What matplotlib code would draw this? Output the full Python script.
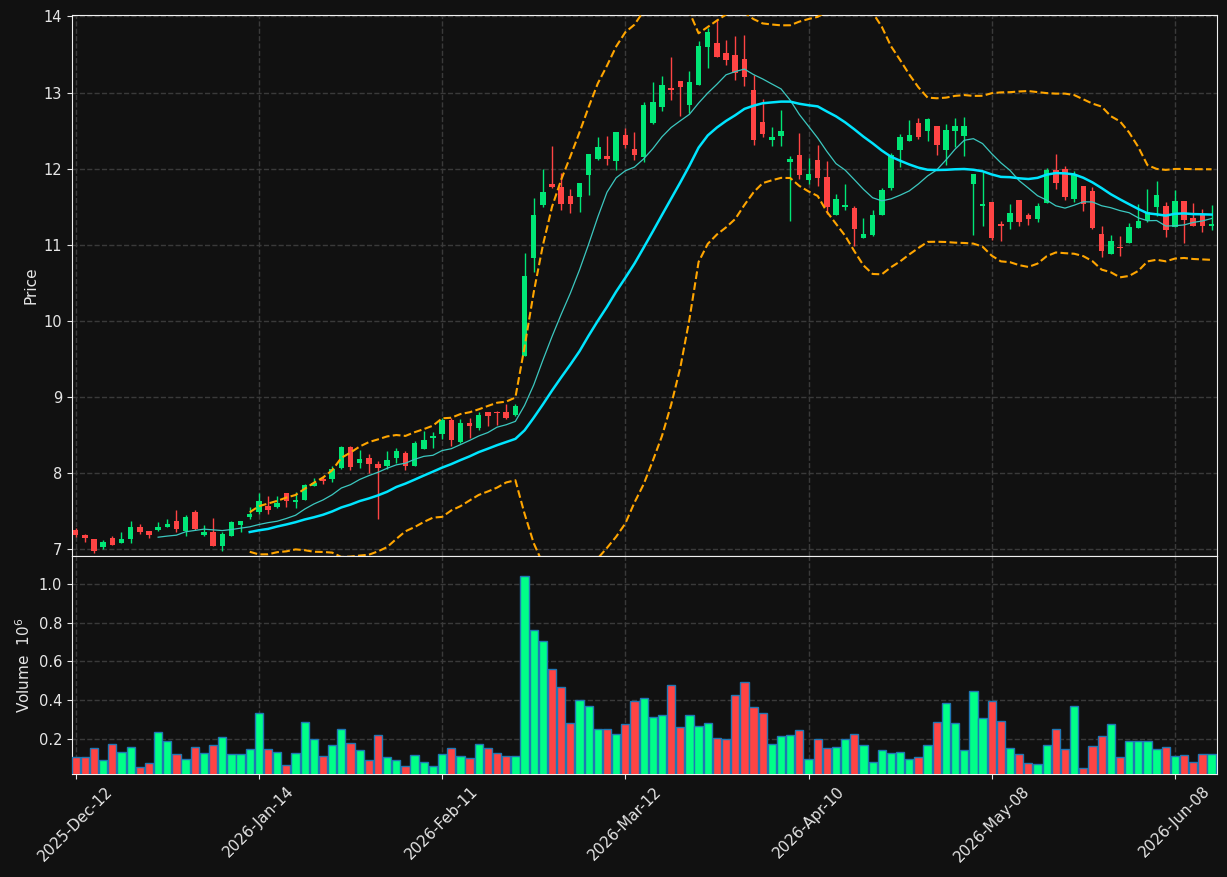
import numpy as np
import pandas as pd
import matplotlib
matplotlib.use("Agg")
import matplotlib.pyplot as plt

# daily OHLC + volume (volume in millions)
opens = [7.251, 7.185, 7.132, 7.031, 7.145, 7.079, 7.132, 7.291, 7.238, 7.251,
         7.291, 7.370, 7.238, 7.489, 7.185, 7.225, 7.040, 7.172, 7.317, 7.423,
         7.482, 7.570, 7.548, 7.737, 7.623, 7.640, 7.833, 7.925, 7.925, 8.061,
         8.346, 8.136, 8.202, 8.123, 8.096, 8.202, 8.263, 8.096, 8.320, 8.465,
         8.518, 8.702, 8.404, 8.662, 8.588, 8.803, 8.803, 8.803, 8.759, 9.535,
         10.825, 11.522, 11.794, 11.754, 11.636, 11.627, 11.917, 12.123, 12.162, 12.101,
         12.439, 12.254, 12.154, 12.596, 12.811, 13.057, 13.149, 12.833, 13.096, 13.596,
         13.649, 13.518, 13.491, 13.439, 13.031, 12.610, 12.373, 12.425, 12.083, 12.175,
         11.846, 12.110, 11.886, 11.386, 11.491, 11.478, 11.083, 11.127, 11.386, 11.741,
         12.241, 12.360, 12.596, 12.491, 12.557, 12.241, 12.491, 12.425, 11.794, 11.504,
         11.557, 11.268, 11.298, 11.583, 11.386, 11.338, 11.548, 11.978, 11.991, 11.596,
         11.768, 11.702, 11.136, 10.873, 10.965, 11.018, 11.215, 11.320, 11.491, 11.504,
         11.232, 11.570, 11.346, 11.386, 11.241]
highs = [7.282, 7.198, 7.140, 7.119, 7.167, 7.225, 7.370, 7.326, 7.240, 7.352,
         7.396, 7.515, 7.445, 7.515, 7.317, 7.410, 7.220, 7.370, 7.370, 7.551,
         7.737, 7.702, 7.697, 7.740, 7.750, 7.850, 7.934, 7.965, 8.096, 8.355,
         8.350, 8.303, 8.254, 8.162, 8.294, 8.333, 8.294, 8.417, 8.548, 8.539,
         8.728, 8.720, 8.711, 8.724, 8.798, 8.803, 8.811, 8.908, 8.908, 10.895,
         11.618, 11.996, 12.294, 11.947, 11.737, 11.816, 12.197, 12.412, 12.434, 12.487,
         12.531, 12.487, 12.877, 13.132, 13.215, 13.461, 13.149, 13.289, 13.680, 13.846,
         13.961, 13.684, 13.737, 13.750, 13.224, 12.921, 12.553, 12.776, 12.171, 12.465,
         12.136, 12.316, 12.105, 11.671, 11.803, 11.513, 11.346, 11.461, 11.741, 12.211,
         12.452, 12.636, 12.662, 12.662, 12.557, 12.583, 12.662, 12.675, 11.925, 11.952,
         11.557, 11.311, 11.531, 11.583, 11.412, 11.544, 12.004, 12.189, 12.031, 11.965,
         11.768, 11.754, 11.250, 11.132, 11.118, 11.281, 11.531, 11.728, 11.833, 11.557,
         11.715, 11.570, 11.544, 11.465, 11.518]
lows = [7.154, 7.097, 6.952, 6.996, 7.050, 7.079, 7.084, 7.194, 7.150, 7.238,
        7.290, 7.225, 7.172, 7.251, 7.172, 7.040, 6.978, 7.170, 7.220, 7.396,
        7.460, 7.465, 7.535, 7.548, 7.535, 7.640, 7.830, 7.855, 7.882, 8.057,
        8.040, 8.061, 8.000, 7.395, 8.053, 8.132, 8.035, 8.090, 8.320, 8.329,
        8.447, 8.360, 8.395, 8.461, 8.570, 8.614, 8.632, 8.711, 8.746, 9.535,
        10.645, 11.496, 11.741, 11.456, 11.421, 11.430, 11.649, 12.110, 12.048, 11.982,
        12.272, 12.114, 12.083, 12.588, 12.759, 12.904, 12.697, 12.728, 13.096, 13.325,
        13.465, 13.364, 13.167, 13.088, 12.311, 12.417, 12.298, 12.298, 11.311, 11.864,
        11.803, 11.772, 11.408, 11.386, 11.456, 10.982, 11.083, 11.114, 11.386, 11.715,
        12.018, 12.360, 12.386, 12.360, 12.175, 12.053, 12.281, 12.162, 11.132, 11.246,
        11.061, 11.048, 11.206, 11.246, 11.259, 11.303, 11.548, 11.732, 11.583, 11.557,
        11.439, 11.206, 10.833, 10.873, 10.851, 11.018, 11.215, 11.294, 11.373, 11.101,
        11.232, 11.022, 11.241, 11.171, 11.189]
closes = [7.185, 7.145, 6.974, 7.093, 7.053, 7.132, 7.291, 7.225, 7.185, 7.291,
          7.330, 7.264, 7.423, 7.264, 7.225, 7.040, 7.198, 7.357, 7.370, 7.463,
          7.636, 7.509, 7.610, 7.627, 7.649, 7.846, 7.868, 7.890, 8.053, 8.346,
          8.079, 8.189, 8.114, 8.070, 8.175, 8.294, 8.088, 8.399, 8.439, 8.491,
          8.697, 8.430, 8.658, 8.614, 8.763, 8.746, 8.794, 8.719, 8.882, 10.583,
          11.386, 11.689, 11.763, 11.535, 11.535, 11.807, 12.189, 12.281, 12.132, 12.478,
          12.311, 12.180, 12.833, 12.873, 13.096, 13.031, 13.070, 13.136, 13.610, 13.794,
          13.465, 13.425, 13.254, 13.202, 12.373, 12.452, 12.412, 12.491, 12.123, 11.917,
          11.925, 11.877, 11.496, 11.596, 11.518, 11.202, 11.136, 11.386, 11.715, 12.175,
          12.412, 12.439, 12.412, 12.649, 12.307, 12.504, 12.557, 12.557, 11.925, 11.530,
          11.083, 11.241, 11.412, 11.298, 11.338, 11.504, 11.978, 11.807, 11.623, 11.912,
          11.531, 11.219, 10.912, 11.044, 10.956, 11.228, 11.307, 11.425, 11.649, 11.189,
          11.570, 11.325, 11.241, 11.241, 11.268]
volumes = [0.106, 0.106, 0.153, 0.090, 0.172, 0.130, 0.158, 0.053, 0.074, 0.237,
           0.190, 0.120, 0.095, 0.158, 0.127, 0.169, 0.210, 0.120, 0.120, 0.148,
           0.336, 0.148, 0.132, 0.067, 0.127, 0.289, 0.197, 0.111, 0.169, 0.252,
           0.179, 0.142, 0.090, 0.221, 0.106, 0.090, 0.059, 0.116, 0.079, 0.059,
           0.121, 0.153, 0.111, 0.100, 0.174, 0.153, 0.127, 0.111, 0.111, 1.044,
           0.761, 0.708, 0.562, 0.467, 0.284, 0.399, 0.368, 0.252, 0.252, 0.226,
           0.279, 0.394, 0.410, 0.315, 0.321, 0.478, 0.263, 0.321, 0.268, 0.284,
           0.205, 0.197, 0.425, 0.493, 0.362, 0.336, 0.174, 0.216, 0.221, 0.247,
           0.095, 0.200, 0.153, 0.158, 0.200, 0.226, 0.169, 0.079, 0.142, 0.127,
           0.132, 0.095, 0.106, 0.169, 0.289, 0.383, 0.284, 0.142, 0.445, 0.310,
           0.394, 0.294, 0.153, 0.121, 0.074, 0.069, 0.169, 0.252, 0.148, 0.368,
           0.048, 0.163, 0.216, 0.279, 0.106, 0.190, 0.190, 0.190, 0.148, 0.158,
           0.111, 0.116, 0.079, 0.121, 0.121]

tick_pos = [0, 20, 40, 60, 80, 100, 120]
tick_labels = ["2025-Dec-12", "2026-Jan-14", "2026-Feb-11", "2026-Mar-12",
               "2026-Apr-10", "2026-May-08", "2026-Jun-08"]

bg = "#111111"
up_c = "#00e676"
dn_c = "#ff4444"
vup_c = "#00ff88"
fg = "#e6e6e6"

o = np.array(opens)
h = np.array(highs)
l = np.array(lows)
c = np.array(closes)
x = np.arange(len(c))
up = c >= o

cs = pd.Series(c)
ma10 = cs.rolling(10).mean()
ma20 = cs.rolling(20).mean()
sd20 = cs.rolling(20).std()

fig = plt.figure(figsize=(12.27, 8.77), dpi=100, facecolor=bg)
ax = fig.add_axes([0.0587, 0.366, 0.9332, 0.617])
axv = fig.add_axes([0.0587, 0.1174, 0.9332, 0.2486], sharex=ax)

for a in (ax, axv):
    a.set_facecolor(bg)
    a.grid(True, linestyle="--", color="#3a3a3a", linewidth=1)
    a.set_axisbelow(True)
    for s in a.spines.values():
        s.set_color("#f0f0f0")
    a.tick_params(colors=fg, labelsize=10.5)

# candles
wick_cols = np.where(up, up_c, dn_c)
ax.vlines(x, l, h, colors=wick_cols, linewidth=1, zorder=2)
body = np.maximum(np.abs(c - o), 0.012)
ax.bar(x, body, bottom=np.minimum(o, c), width=0.6, color=wick_cols, zorder=3)

# moving averages and bands
ax.plot(x, ma10, color="#3cc8c0", linewidth=0.9, zorder=4)
ax.plot(x, ma20, color="#00e5ff", linewidth=1.8, zorder=4)
ax.plot(x, ma20 + 2 * sd20, color="#ffa500", linestyle="--", linewidth=1.5, zorder=4)
ax.plot(x, ma20 - 2 * sd20, color="#ffa500", linestyle="--", linewidth=1.5, zorder=4)

ax.set_ylim(6.91, 14.02)
ax.set_yticks(np.arange(7, 15, 1))
ax.set_ylabel("Price", color=fg, fontsize=11)
ax.tick_params(axis="x", labelbottom=False, length=0)

# volume
axv.bar(x, volumes, width=0.9, color=np.where(up, vup_c, dn_c),
        edgecolor="#1f77b4", linewidth=1, zorder=3)
axv.set_ylim(0.018, 1.145)
axv.set_yticks([0.2, 0.4, 0.6, 0.8, 1.0])
axv.set_ylabel("Volume  $10^{6}$", color=fg, fontsize=11)

axv.set_xlim(-0.4, len(c) - 0.4)
axv.set_xticks(tick_pos)
axv.set_xticklabels(tick_labels, rotation=45, ha="center", fontsize=11)

fig.savefig("out.png", dpi=100, facecolor=bg)
